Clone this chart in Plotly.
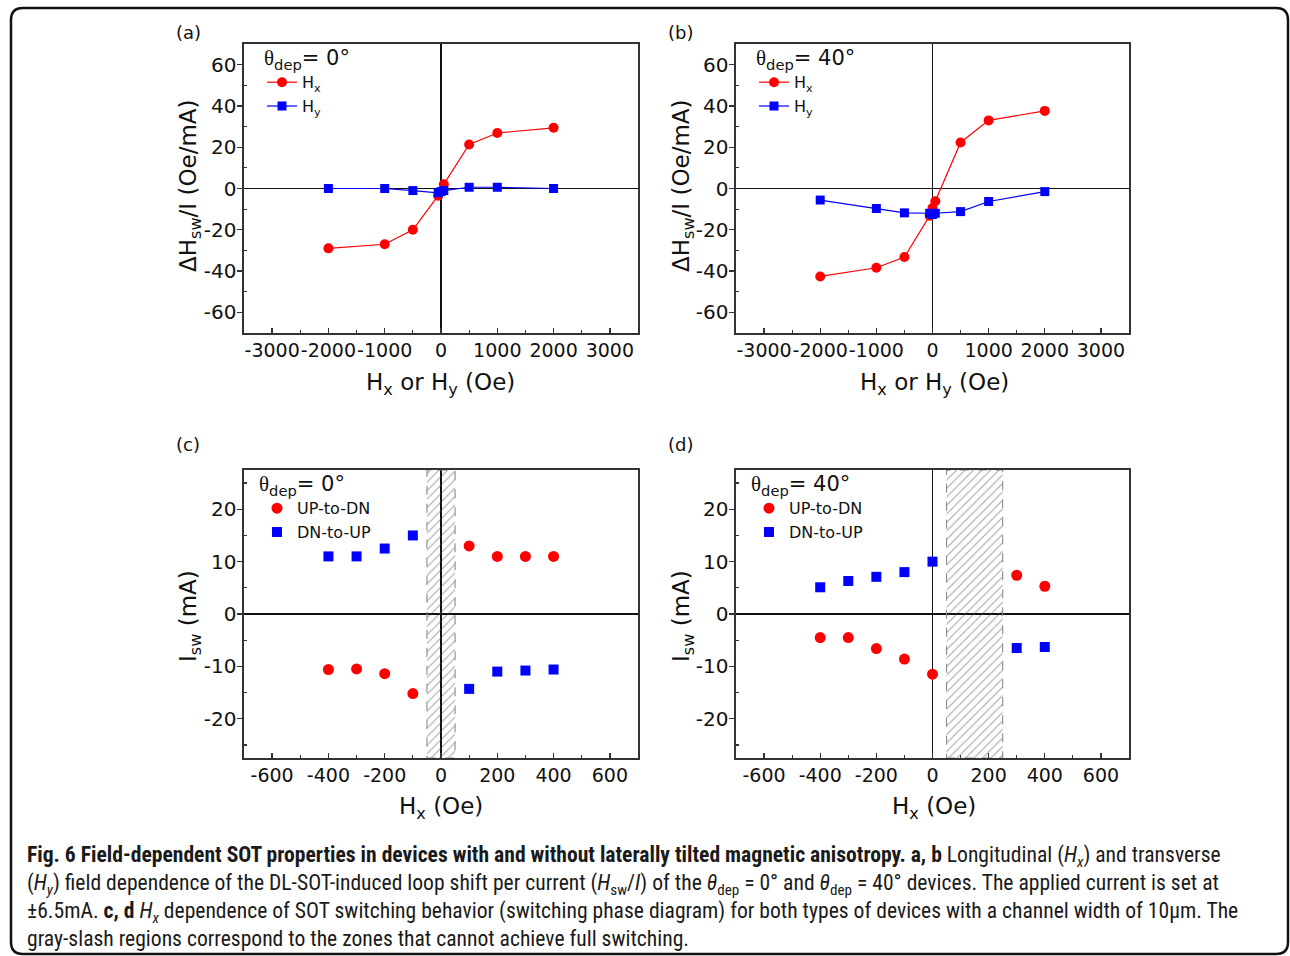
import plotly.graph_objects as go

W, H = 1290, 956

# ---------------- data ----------------
# (a) theta_dep = 0 deg
field_hx_a = [-2000, -1000, -500, -50, 50, 500, 1000, 2000]
dh_hx_a = [-29.0, -27.0, -20.0, -3.5, 2.0, 21.3, 26.9, 29.4]
field_hy_a = [-2000, -1000, -500, -50, 0, 50, 500, 1000, 2000]
dh_hy_a = [0.0, 0.0, -1.0, -2.1, -1.5, -1.0, 0.6, 0.6, 0.0]

# (b) theta_dep = 40 deg
field_hx_b = [-2000, -1000, -500, -50, 0, 50, 500, 1000, 2000]
dh_hx_b = [-42.6, -38.4, -33.2, -13.2, -9.5, -6.2, 22.3, 33.0, 37.6]
field_hy_b = [-2000, -1000, -500, -50, 0, 50, 500, 1000, 2000]
dh_hy_b = [-5.6, -9.7, -11.8, -12.0, -12.6, -12.0, -11.2, -6.3, -1.5]

# (c) theta_dep = 0 deg switching phase diagram
hx_c = [-400, -300, -200, -100, 100, 200, 300, 400]
up_dn_c = [-10.6, -10.5, -11.4, -15.2, 13.0, 11.0, 11.0, 11.0]
dn_up_c = [11.0, 11.0, 12.5, 15.0, -14.3, -11.0, -10.8, -10.6]
hatch_c = [-50, 50]

# (d) theta_dep = 40 deg switching phase diagram
hx_d = [-400, -300, -200, -100, 0, 300, 400]
up_dn_d = [-4.5, -4.5, -6.6, -8.6, -11.5, 7.4, 5.3]
dn_up_d = [5.1, 6.3, 7.1, 8.0, 10.0, -6.5, -6.3]
hatch_d = [50, 250]

# axis ranges / ticks
xr_ab = [-3500, 3500]
yr_ab = [-70, 70]
xt_ab = [-3000, -2000, -1000, 0, 1000, 2000, 3000]
xm_ab = [-2500, -1500, -500, 500, 1500, 2500]
yt_ab = [-60, -40, -20, 0, 20, 40, 60]
ym_ab = [-50, -30, -10, 10, 30, 50]

xr_cd = [-700, 700]
yr_cd = [-27.5, 27.5]
xt_cd = [-600, -400, -200, 0, 200, 400, 600]
xm_cd = [-500, -300, -100, 100, 300, 500]
yt_cd = [-20, -10, 0, 10, 20]
ym_cd = [-25, -15, -5, 5, 15, 25]

RED = "#FF0000"
BLUE = "#0000FF"
FONT = "DejaVu Sans, Liberation Sans, Arial, sans-serif"


def px(x):
    return x / W


def py(y):
    return 1 - y / H


def lab(v):
    return [str(t) for t in v]  # hyphen-minus like the original


fig = go.Figure()

# ---------- panel a ----------
fig.add_trace(go.Scatter(x=field_hx_a, y=dh_hx_a, mode="lines+markers", name="H<sub>x</sub>",
                         line=dict(color=RED, width=1.2), marker=dict(symbol="circle", size=10, color=RED),
                         xaxis="x", yaxis="y", legend="legend"))
fig.add_trace(go.Scatter(x=field_hy_a, y=dh_hy_a, mode="lines+markers", name="H<sub>y</sub>",
                         line=dict(color=BLUE, width=1.2), marker=dict(symbol="square", size=9, color=BLUE),
                         xaxis="x", yaxis="y", legend="legend"))
# ---------- panel b ----------
fig.add_trace(go.Scatter(x=field_hx_b, y=dh_hx_b, mode="lines+markers", name="H<sub>x</sub>",
                         line=dict(color=RED, width=1.2), marker=dict(symbol="circle", size=10, color=RED),
                         xaxis="x2", yaxis="y2", legend="legend2"))
fig.add_trace(go.Scatter(x=field_hy_b, y=dh_hy_b, mode="lines+markers", name="H<sub>y</sub>",
                         line=dict(color=BLUE, width=1.2), marker=dict(symbol="square", size=9, color=BLUE),
                         xaxis="x2", yaxis="y2", legend="legend2"))


def hatch_trace(hx, yr, xa, ya):
    return go.Scatter(x=[hx[0], hx[1], hx[1], hx[0], hx[0]],
                      y=[yr[0], yr[0], yr[1], yr[1], yr[0]],
                      mode="lines", fill="toself", fillcolor="rgba(0,0,0,0)",
                      fillpattern=dict(shape="/", fgcolor="#4a4a4a", bgcolor="rgba(0,0,0,0)",
                                       size=6, solidity=0.18),
                      line=dict(color="#8a8a8a", width=1.1, dash="dash"),
                      showlegend=False, hoverinfo="skip", xaxis=xa, yaxis=ya)


# ---------- panel c ----------
fig.add_trace(hatch_trace(hatch_c, yr_cd, "x3", "y3"))
fig.add_trace(go.Scatter(x=hx_c, y=up_dn_c, mode="markers", name="UP-to-DN",
                         marker=dict(symbol="circle", size=11, color=RED),
                         xaxis="x3", yaxis="y3", legend="legend3"))
fig.add_trace(go.Scatter(x=hx_c, y=dn_up_c, mode="markers", name="DN-to-UP",
                         marker=dict(symbol="square", size=10, color=BLUE),
                         xaxis="x3", yaxis="y3", legend="legend3"))
# ---------- panel d ----------
fig.add_trace(hatch_trace(hatch_d, yr_cd, "x4", "y4"))
fig.add_trace(go.Scatter(x=hx_d, y=up_dn_d, mode="markers", name="UP-to-DN",
                         marker=dict(symbol="circle", size=11, color=RED),
                         xaxis="x4", yaxis="y4", legend="legend4"))
fig.add_trace(go.Scatter(x=hx_d, y=dn_up_d, mode="markers", name="DN-to-UP",
                         marker=dict(symbol="square", size=10, color=BLUE),
                         xaxis="x4", yaxis="y4", legend="legend4"))


def xaxis(dom, rng, tv, mv, anchor):
    return dict(domain=[px(dom[0]), px(dom[1])], range=rng, anchor=anchor,
                tickmode="array", tickvals=tv, ticktext=lab(tv), tickangle=0,
                ticks="inside", ticklen=5, tickwidth=1.3, tickcolor="#333",
                minor=dict(tickmode="array", tickvals=mv, ticks="inside", ticklen=3,
                           tickwidth=1.2, tickcolor="#333"),
                showline=True, linecolor="#333", linewidth=1.6, mirror=True,
                showgrid=False, zeroline=True, zerolinecolor="#111", zerolinewidth=1.4,
                tickfont=dict(family=FONT, size=19, color="#111"), fixedrange=True)


def yaxis(dom, rng, tv, mv, anchor):
    return dict(domain=[py(dom[1]), py(dom[0])], range=rng, anchor=anchor,
                tickmode="array", tickvals=tv, ticktext=lab(tv), tickangle=0,
                ticks="outside", ticklen=5, tickwidth=1.3, tickcolor="#333",
                ticklabelstandoff=-3,
                minor=dict(tickmode="array", tickvals=mv, ticks="inside", ticklen=3,
                           tickwidth=1.2, tickcolor="#333"),
                showline=True, linecolor="#333", linewidth=1.6, mirror=True,
                showgrid=False, zeroline=True, zerolinecolor="#111", zerolinewidth=1.4,
                tickfont=dict(family=FONT, size=20, color="#111"), fixedrange=True)


XA = [244, 638]
XB = [736, 1129]
YT = [44, 333]
YB = [470, 758]

theta = '<span style="font-family:Liberation Serif">θ</span>'


def legend(x, y, deg):
    return dict(x=px(x), y=py(y), xanchor="left", yanchor="top",
                bgcolor="rgba(0,0,0,0)", borderwidth=0,
                font=dict(family=FONT, size=16, color="#111"),
                title=dict(text=f"{theta}<sub>dep</sub>= {deg}°", side="top",
                           font=dict(family=FONT, size=21, color="#111")),
                tracegroupgap=0)


fig.update_layout(
    width=W, height=H,
    margin=dict(l=0, r=0, t=0, b=0),
    paper_bgcolor="white", plot_bgcolor="white",
    showlegend=True,
    xaxis=xaxis(XA, xr_ab, xt_ab, xm_ab, "y"),
    yaxis=yaxis(YT, yr_ab, yt_ab, ym_ab, "x"),
    xaxis2=xaxis(XB, xr_ab, xt_ab, xm_ab, "y2"),
    yaxis2=yaxis(YT, yr_ab, yt_ab, ym_ab, "x2"),
    xaxis3=xaxis(XA, xr_cd, xt_cd, xm_cd, "y3"),
    yaxis3=yaxis(YB, yr_cd, yt_cd, ym_cd, "x3"),
    xaxis4=xaxis(XB, xr_cd, xt_cd, xm_cd, "y4"),
    yaxis4=yaxis(YB, yr_cd, yt_cd, ym_cd, "x4"),
    legend=legend(262, 38, 0),
    legend2=legend(754, 38, 40),
    legend3=legend(257, 464, 0),
    legend4=legend(749, 464, 40),
)

ann = []
TF = dict(family=FONT, size=23, color="#111")
# axis titles
for cx in (441, 934):
    ann.append(dict(text="H<sub>x</sub> or H<sub>y</sub> (Oe)", x=px(cx), y=py(384),
                    xref="paper", yref="paper", showarrow=False, xanchor="center",
                    yanchor="middle", font=TF))
    ann.append(dict(text="H<sub>x</sub> (Oe)", x=px(cx), y=py(808),
                    xref="paper", yref="paper", showarrow=False, xanchor="center",
                    yanchor="middle", font=TF))
for cx in (190, 683):
    ann.append(dict(text="ΔH<sub>sw</sub>/I (Oe/mA)", x=px(cx), y=py(186), textangle=-90,
                    xref="paper", yref="paper", showarrow=False, xanchor="center",
                    yanchor="middle", font=TF))
    ann.append(dict(text="I<sub>sw</sub> (mA)", x=px(cx), y=py(616), textangle=-90,
                    xref="paper", yref="paper", showarrow=False, xanchor="center",
                    yanchor="middle", font=TF))
# panel letters
for t, x, y in (("(a)", 188, 33), ("(b)", 680, 33), ("(c)", 188, 445), ("(d)", 680, 445)):
    ann.append(dict(text=t, x=px(x), y=py(y), xref="paper", yref="paper", showarrow=False,
                    xanchor="center", yanchor="middle",
                    font=dict(family=FONT, size=18, color="#111")))

# caption (one text block, four lines)
CAP = "Liberation Sans Narrow, Roboto Condensed, DejaVu Sans Condensed, Liberation Sans, sans-serif"
cap_lines = [
    "<b>Fig. 6 Field-dependent SOT properties in devices with and without laterally tilted magnetic anisotropy. a, b</b> "
    "Longitudinal (<i>H<sub>x</sub></i>) and transverse",
    "(<i>H<sub>y</sub></i>) field dependence of the DL-SOT-induced loop shift per current (<i>H</i><sub>sw</sub>/<i>I</i>) "
    "of the <i>θ</i><sub>dep</sub> = 0° and <i>θ</i><sub>dep</sub> = 40° devices. The applied current is set at",
    "±6.5mA. <b>c, d</b> <i>H<sub>x</sub></i> dependence of SOT switching behavior (switching phase diagram) "
    "for both types of devices with a channel width of 10μm. The",
    "gray-slash regions correspond to the zones that cannot achieve full switching.",
]
ann.append(dict(text="<br>".join(cap_lines), x=px(25), y=py(896), xref="paper", yref="paper",
                showarrow=False, xanchor="left", yanchor="middle", align="left",
                font=dict(family=CAP, size=21.6, color="#1a1a1a")))
fig.update_layout(annotations=ann)

# rounded outer border
x0, y0, x1, y1, r = px(11), py(8), px(1288), py(954), 12
rx, ry = r / W, r / H
path = (f"M {x0+rx},{y0} L {x1-rx},{y0} Q {x1},{y0} {x1},{y0-ry} "
        f"L {x1},{y1+ry} Q {x1},{y1} {x1-rx},{y1} L {x0+rx},{y1} Q {x0},{y1} {x0},{y1+ry} "
        f"L {x0},{y0-ry} Q {x0},{y0} {x0+rx},{y0} Z")
fig.add_shape(type="path", path=path, xref="paper", yref="paper",
              line=dict(color="#111", width=2.5), layer="above")

fig.write_html("out.html", config={"displayModeBar": False, "staticPlot": True},
               post_script="document.body.style.margin='0px';document.body.style.overflow='hidden';")
